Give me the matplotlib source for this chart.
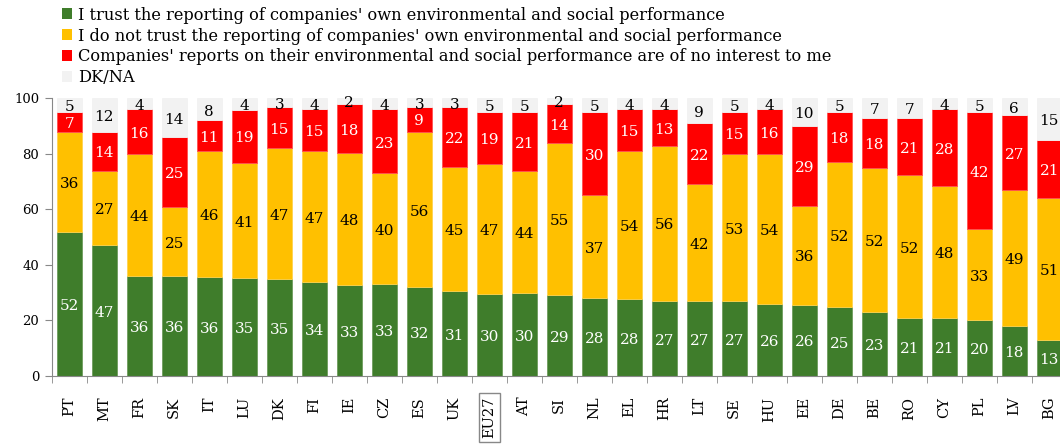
import numpy as np
import matplotlib
matplotlib.use("Agg")
import matplotlib.pyplot as plt
from matplotlib.patches import Patch

plt.rcParams['font.family'] = ['DejaVu Serif']

countries = ['PT', 'MT', 'FR', 'SK', 'IT', 'LU', 'DK', 'FI', 'IE', 'CZ', 'ES', 'UK', 'EU27', 'AT', 'SI',
             'NL', 'EL', 'HR', 'LT', 'SE', 'HU', 'EE', 'DE', 'BE', 'RO', 'CY', 'PL', 'LV', 'BG']
trust = [52, 47, 36, 36, 36, 35, 35, 34, 33, 33, 32, 31, 30, 30, 29,
         28, 28, 27, 27, 27, 26, 26, 25, 23, 21, 21, 20, 18, 13]
no_trust = [36, 27, 44, 25, 46, 41, 47, 47, 48, 40, 56, 45, 47, 44, 55,
            37, 54, 56, 42, 53, 54, 36, 52, 52, 52, 48, 33, 49, 51]
no_interest = [7, 14, 16, 25, 11, 19, 15, 15, 18, 23, 9, 22, 19, 21, 14,
               30, 15, 13, 22, 15, 16, 29, 18, 18, 21, 28, 42, 27, 21]
dkna = [5, 12, 4, 14, 8, 4, 3, 4, 2, 4, 3, 3, 5, 5, 2,
        5, 4, 4, 9, 5, 4, 10, 5, 7, 7, 4, 5, 6, 15]

series_names = ["I trust the reporting of companies' own environmental and social performance",
                "I do not trust the reporting of companies' own environmental and social performance",
                "Companies' reports on their environmental and social performance are of no interest to me",
                "DK/NA"]
colors = ['#3F7D2B', '#FFC000', '#FF0000', '#F2F2F2']
edges = ['#6E9C5C', '#FFD24D', '#FF5050', '#F2F2F2']
text_colors = ['white', 'black', 'white', 'black']

data = np.array([trust, no_trust, no_interest, dkna], dtype=float)
# rounded figures don't always add to 100, scale each bar to 100
shares = data / data.sum(axis=0) * 100

fig = plt.figure(figsize=(10.6, 4.46), dpi=100)
ax = fig.add_axes([51.7 / 1060, 70 / 446, 1015 / 1060, 277.7 / 446])

x = np.arange(len(countries))
bottom = np.zeros(len(countries))
for i in range(4):
    ax.bar(x, shares[i], 0.72, bottom=bottom, color=colors[i], edgecolor=edges[i], linewidth=0.6)
    for j in range(len(countries)):
        ax.text(x[j], bottom[j] + shares[i][j] / 2 - 0.8, str(int(data[i][j])),
                ha='center', va='center', fontsize=11, color=text_colors[i])
    bottom += shares[i]

ax.set_xlim(-0.5, len(countries) - 0.5)
ax.set_ylim(0, 100)
ax.set_yticks(range(0, 101, 20))
ax.set_xticks(x)
ax.set_xticklabels(countries, rotation=90, fontsize=10.5)
ax.set_xticks(np.arange(-0.5, len(countries), 1), minor=True)
ax.tick_params(axis='x', which='major', length=0, pad=15)
ax.tick_params(axis='x', which='minor', length=5, color='#888888')
ax.tick_params(axis='y', length=5, color='#888888', labelsize=9.5, pad=4)
for lbl in ax.get_xticklabels():
    if lbl.get_text() == 'EU27':
        lbl.set_bbox(dict(facecolor='white', edgecolor='#888888', boxstyle='square,pad=0.25', linewidth=1))

for s in ['top', 'right']:
    ax.spines[s].set_visible(False)
for s in ['left', 'bottom']:
    ax.spines[s].set_color('#888888')

handles = [Patch(facecolor=c, edgecolor='none') for c in colors]
fig.legend(handles, series_names, loc='upper left', bbox_to_anchor=(60 / 1060, 1.0 - 5 / 446),
           frameon=False, fontsize=11.7, handlelength=0.65, handleheight=0.65, handletextpad=0.35,
           labelspacing=0.24, borderaxespad=0, borderpad=0.1)

fig.savefig('out.png', dpi=100)
